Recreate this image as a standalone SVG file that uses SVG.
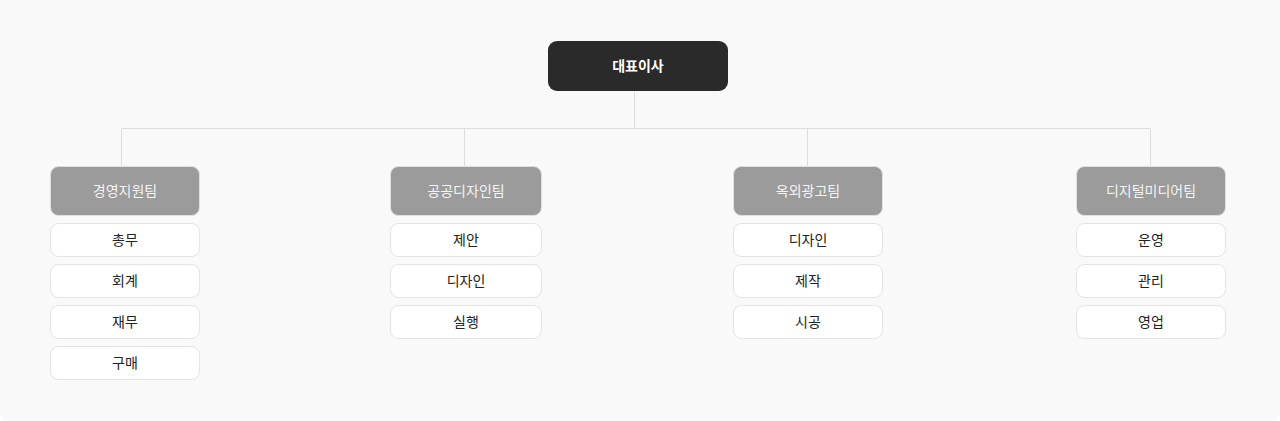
<svg xmlns="http://www.w3.org/2000/svg" width="1280" height="421" viewBox="0 0 1280 421">
<style>
text{font-family:"Noto Sans CJK KR","Noto Sans",sans-serif;font-size:14px;text-anchor:middle;dominant-baseline:central}
.ceo rect{fill:#2a2a2a}
.ceo text{fill:#ffffff;font-weight:700}
.team rect{fill:#9b9b9b;stroke:#e0e0e0;stroke-width:1}
.team text{fill:#f4f4f4}
.sub rect{fill:#ffffff;stroke:#e3e3e3;stroke-width:1}
.sub text{fill:#222222}
.conn line{stroke:#dddddd;stroke-width:1}
</style>
<path d="M0 0H1280V411A10 10 0 0 1 1270 421H10A10 10 0 0 1 0 411Z" fill="#f9f9f9"/>
<g id="connectors" class="conn">
<line x1="634.5" y1="91" x2="634.5" y2="128.5"/>
<line x1="121.5" y1="128.5" x2="1150.5" y2="128.5"/>
<line x1="121.5" y1="128.5" x2="121.5" y2="166"/>
<line x1="464.5" y1="128.5" x2="464.5" y2="166"/>
<line x1="807.5" y1="128.5" x2="807.5" y2="166"/>
<line x1="1150.5" y1="128.5" x2="1150.5" y2="166"/>
</g>
<g id="ceo" class="ceo"><rect x="548" y="41" width="180" height="50" rx="9"/><text x="638" y="65">대표이사</text></g>
<g id="team1" class="team"><rect x="50.5" y="166.5" width="149" height="49" rx="8"/><text x="125" y="190">경영지원팀</text></g>
<g id="team2" class="team"><rect x="390.5" y="166.5" width="151" height="49" rx="8"/><text x="466" y="190">공공디자인팀</text></g>
<g id="team3" class="team"><rect x="733.5" y="166.5" width="149" height="49" rx="8"/><text x="808" y="190">옥외광고팀</text></g>
<g id="team4" class="team"><rect x="1076.5" y="166.5" width="149" height="49" rx="8"/><text x="1151" y="190">디지털미디어팀</text></g>
<g id="t1s1" class="sub"><rect x="50.5" y="223.5" width="149" height="33" rx="8"/><text x="125" y="239">총무</text></g>
<g id="t1s2" class="sub"><rect x="50.5" y="264.5" width="149" height="33" rx="8"/><text x="125" y="280">회계</text></g>
<g id="t1s3" class="sub"><rect x="50.5" y="305.5" width="149" height="33" rx="8"/><text x="125" y="321">재무</text></g>
<g id="t1s4" class="sub"><rect x="50.5" y="346.5" width="149" height="33" rx="8"/><text x="125" y="362">구매</text></g>
<g id="t2s1" class="sub"><rect x="390.5" y="223.5" width="151" height="33" rx="8"/><text x="466" y="239">제안</text></g>
<g id="t2s2" class="sub"><rect x="390.5" y="264.5" width="151" height="33" rx="8"/><text x="466" y="280">디자인</text></g>
<g id="t2s3" class="sub"><rect x="390.5" y="305.5" width="151" height="33" rx="8"/><text x="466" y="321">실행</text></g>
<g id="t3s1" class="sub"><rect x="733.5" y="223.5" width="149" height="33" rx="8"/><text x="808" y="239">디자인</text></g>
<g id="t3s2" class="sub"><rect x="733.5" y="264.5" width="149" height="33" rx="8"/><text x="808" y="280">제작</text></g>
<g id="t3s3" class="sub"><rect x="733.5" y="305.5" width="149" height="33" rx="8"/><text x="808" y="321">시공</text></g>
<g id="t4s1" class="sub"><rect x="1076.5" y="223.5" width="149" height="33" rx="8"/><text x="1151" y="239">운영</text></g>
<g id="t4s2" class="sub"><rect x="1076.5" y="264.5" width="149" height="33" rx="8"/><text x="1151" y="280">관리</text></g>
<g id="t4s3" class="sub"><rect x="1076.5" y="305.5" width="149" height="33" rx="8"/><text x="1151" y="321">영업</text></g>
</svg>
